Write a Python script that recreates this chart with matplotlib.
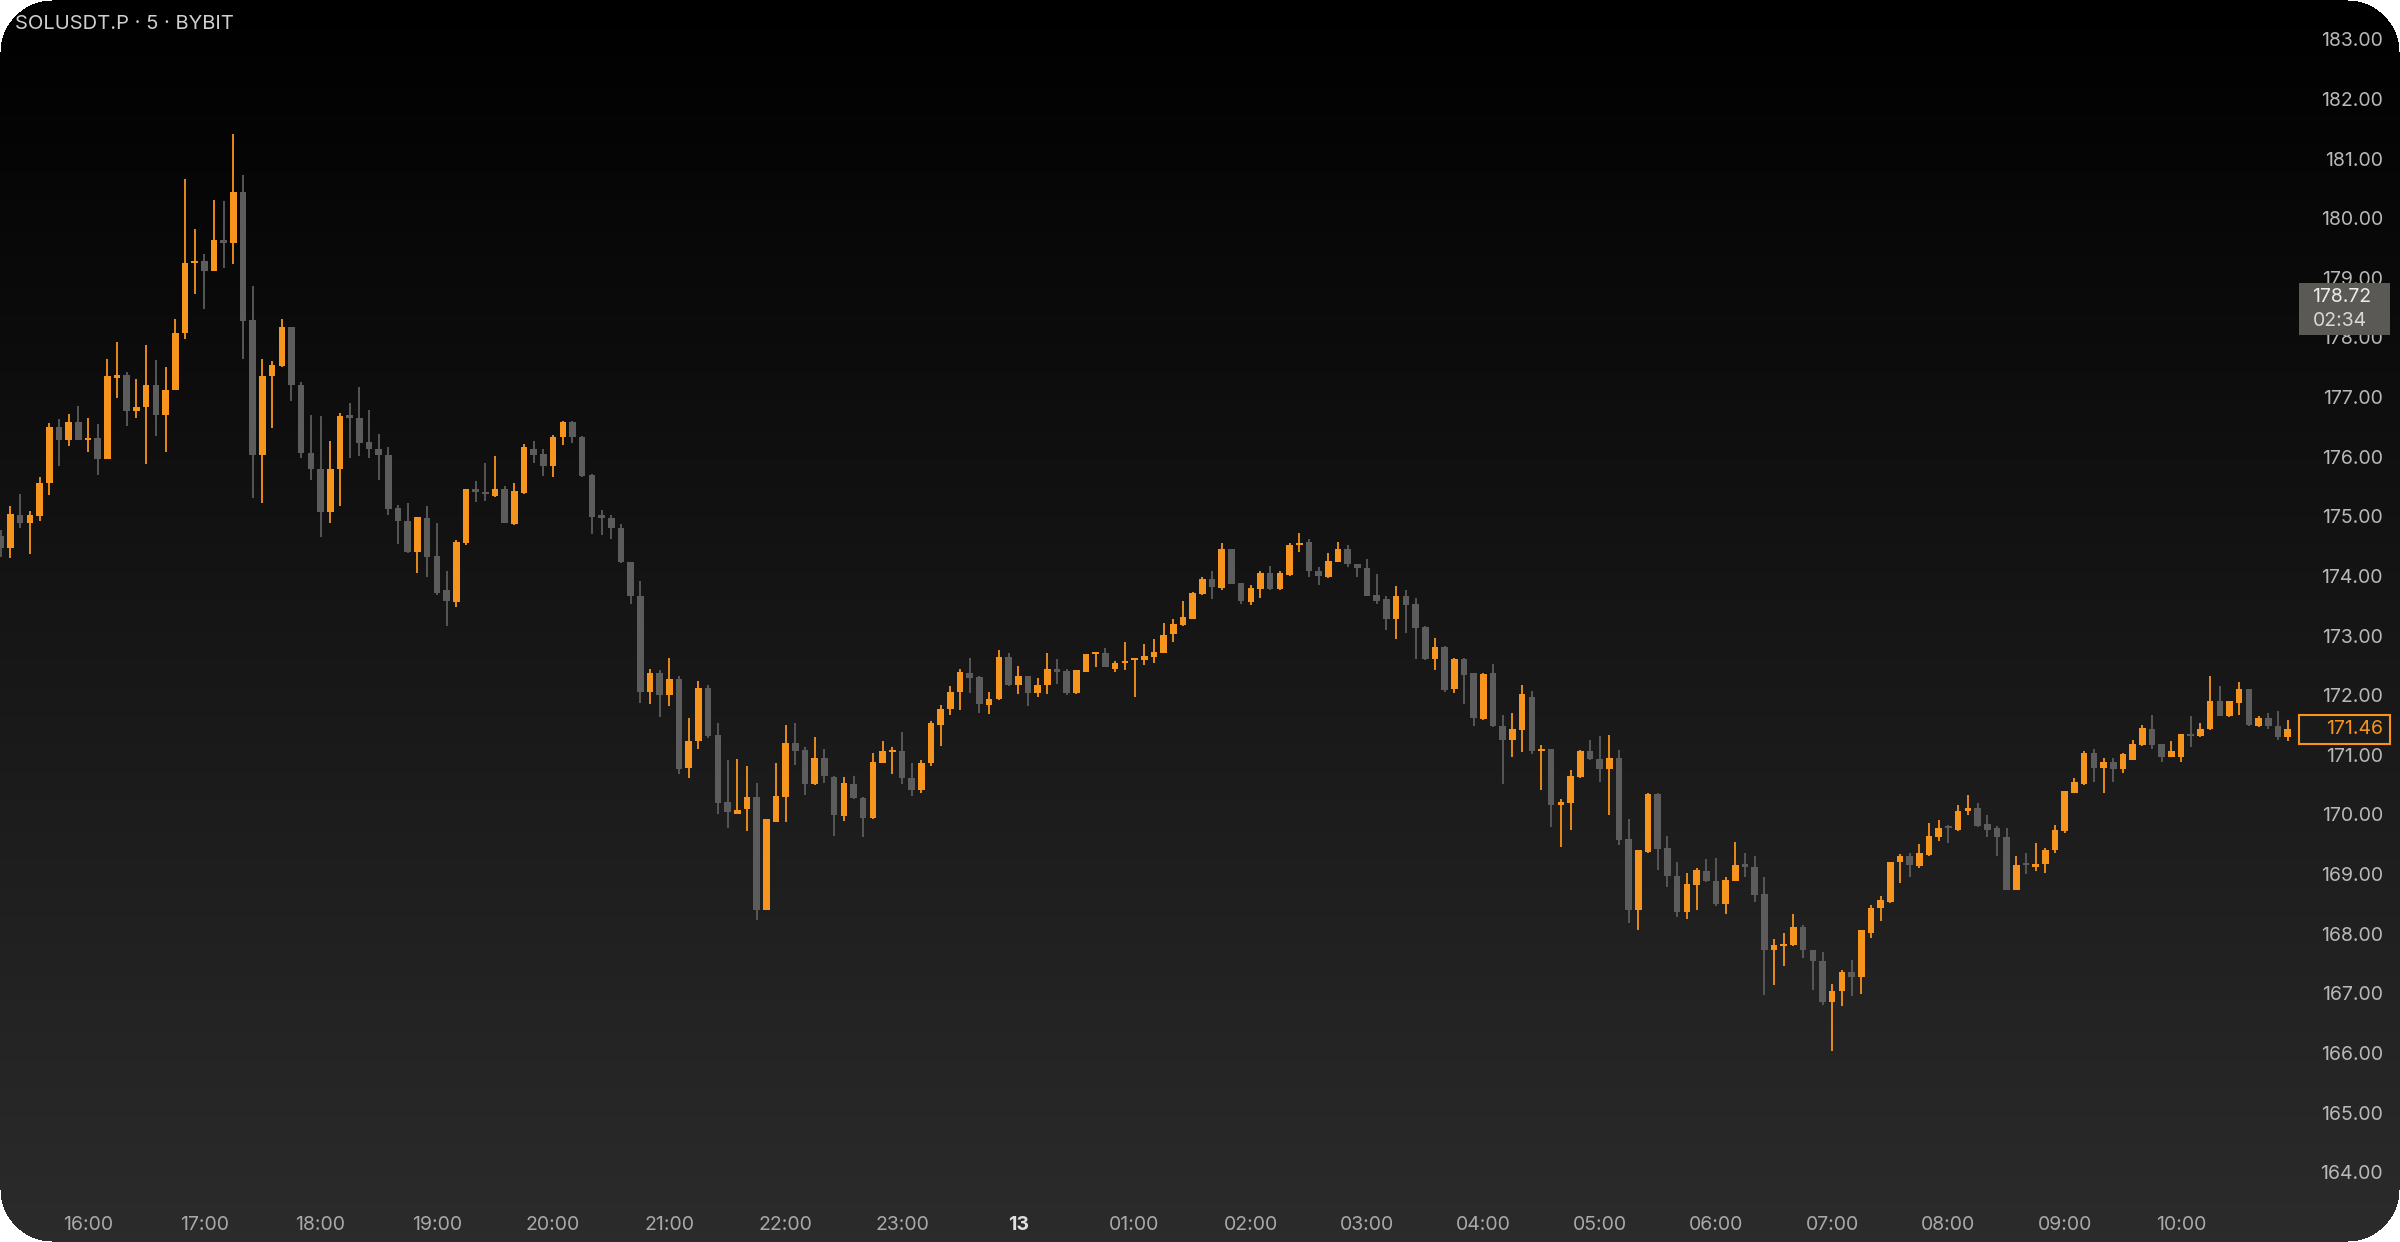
import numpy as np
import matplotlib.pyplot as plt
import matplotlib.transforms as mtransforms
from matplotlib.patches import Rectangle

plt.rcParams['font.family'] = ['Inter', 'DejaVu Sans']

# 5-minute candles, first one is 15:15 (index -9), 16:00 is index 0
first_candle = -9

opens = [
    174.70, 174.51, 175.06, 174.92, 175.04, 175.60, 176.53, 176.32, 176.61, 176.31,
    176.34, 175.99, 177.36, 177.40, 176.80, 176.87, 177.24, 176.73, 177.16, 178.10,
    179.28, 179.32, 179.15, 179.67, 179.61, 180.48, 178.33, 176.07, 177.38, 177.55,
    178.21, 177.24, 176.10, 175.83, 175.10, 175.82, 176.71, 176.68, 176.28, 176.17,
    176.07, 175.17, 174.96, 174.44, 175.01, 174.37, 173.79, 173.60, 174.58, 175.49,
    175.45, 175.38, 175.50, 174.91, 175.43, 176.17, 176.08, 175.87, 176.36, 176.61,
    176.36, 175.73, 175.05, 175.00, 174.83, 174.26, 173.70, 172.09, 172.41, 172.04,
    172.30, 170.81, 171.26, 172.15, 171.37, 170.25, 170.05, 170.12, 170.33, 168.44,
    169.91, 170.33, 171.23, 171.11, 170.55, 170.98, 170.67, 170.01, 170.55, 170.31,
    169.97, 170.90, 171.08, 171.10, 170.65, 170.45, 170.90, 171.53, 171.80, 172.08,
    172.41, 172.34, 171.87, 171.97, 172.68, 172.20, 172.35, 172.07, 172.21, 172.48,
    172.44, 172.07, 172.43, 172.72, 172.74, 172.47, 172.58, 172.62, 172.63, 172.67,
    172.75, 173.06, 173.21, 173.32, 173.73, 173.98, 173.83, 174.48, 173.92, 173.59,
    173.81, 174.08, 173.81, 174.05, 174.55, 174.60, 174.12, 174.01, 174.27, 174.48,
    174.23, 174.16, 173.71, 173.64, 173.31, 173.69, 173.56, 173.17, 172.64, 172.85,
    172.14, 172.64, 172.40, 171.63, 172.40, 171.52, 171.29, 171.45, 172.00, 171.10,
    171.13, 170.20, 170.22, 170.67, 171.10, 170.96, 170.79, 170.98, 169.62, 168.44,
    169.41, 170.37, 169.47, 169.01, 168.40, 168.85, 169.09, 168.92, 168.54, 168.92,
    169.19, 169.15, 168.70, 167.76, 167.83, 167.85, 168.15, 167.76, 167.57, 166.89,
    167.08, 167.40, 167.30, 168.04, 168.46, 168.57, 169.23, 169.34, 169.17, 169.35,
    169.66, 169.82, 169.77, 170.10, 170.14, 169.87, 169.80, 169.66, 168.77, 169.20,
    169.15, 169.20, 169.43, 169.75, 170.40, 170.54, 171.07, 170.82, 170.92, 170.79,
    170.95, 171.20, 171.47, 171.21, 171.00, 171.00, 171.38, 171.35, 171.46, 171.94,
    171.69, 171.91, 172.13, 171.52, 171.66, 171.51, 171.33,
]
highs = [
    174.80, 175.20, 175.41, 175.13, 175.70, 176.60, 176.66, 176.75, 176.88, 176.69,
    176.58, 177.67, 177.95, 177.45, 177.34, 177.90, 177.66, 177.54, 178.34, 180.69,
    179.85, 179.43, 180.34, 180.33, 181.45, 180.76, 178.90, 177.67, 177.64, 178.34,
    178.21, 177.28, 176.73, 176.71, 176.29, 176.76, 176.93, 177.21, 176.81, 176.41,
    176.20, 175.22, 175.26, 175.03, 175.21, 174.93, 174.12, 174.63, 175.50, 175.62,
    175.93, 176.05, 175.54, 175.60, 176.25, 176.29, 176.17, 176.40, 176.64, 176.64,
    176.38, 175.74, 175.14, 175.06, 174.90, 174.27, 173.95, 172.47, 172.45, 172.65,
    172.35, 171.66, 172.28, 172.21, 171.56, 170.95, 170.96, 170.84, 170.57, 169.96,
    170.90, 171.53, 171.57, 171.17, 171.34, 171.14, 170.68, 170.66, 170.68, 170.32,
    171.07, 171.27, 171.17, 171.41, 170.90, 170.95, 171.60, 171.87, 172.19, 172.48,
    172.65, 172.36, 172.08, 172.80, 172.75, 172.53, 172.36, 172.33, 172.75, 172.64,
    172.47, 172.46, 172.73, 172.75, 172.82, 172.61, 172.92, 172.65, 172.89, 172.98,
    173.25, 173.32, 173.61, 173.77, 174.02, 174.11, 174.59, 174.48, 173.92, 173.88,
    174.11, 174.20, 174.11, 174.58, 174.76, 174.66, 174.19, 174.42, 174.61, 174.56,
    174.23, 174.31, 174.06, 173.70, 173.87, 173.80, 173.66, 173.19, 173.00, 172.86,
    172.65, 172.65, 172.41, 172.41, 172.56, 171.70, 171.73, 172.20, 172.10, 171.20,
    171.13, 170.30, 170.78, 171.11, 171.28, 171.35, 171.37, 171.12, 169.95, 169.44,
    170.39, 170.40, 169.67, 169.23, 169.06, 169.13, 169.28, 169.30, 168.99, 169.58,
    169.39, 169.34, 168.99, 167.94, 168.05, 168.37, 168.18, 167.76, 167.73, 167.19,
    167.42, 167.60, 168.10, 168.52, 168.66, 169.24, 169.37, 169.38, 169.54, 169.89,
    169.94, 169.86, 170.19, 170.36, 170.22, 170.02, 169.84, 169.80, 169.34, 169.39,
    169.56, 169.47, 169.86, 170.43, 170.64, 171.09, 171.13, 170.98, 170.98, 171.07,
    171.29, 171.53, 171.70, 171.21, 171.27, 171.39, 171.69, 171.57, 172.36, 172.19,
    171.94, 172.26, 172.13, 171.68, 171.74, 171.77, 171.62,
]
lows = [
    174.35, 174.34, 174.83, 174.40, 174.96, 175.39, 175.87, 176.22, 176.31, 176.12,
    175.73, 175.99, 177.01, 176.55, 176.68, 175.91, 176.38, 176.12, 177.15, 178.00,
    178.76, 178.51, 179.15, 179.20, 179.27, 177.68, 175.34, 175.26, 176.51, 177.53,
    176.96, 176.01, 175.64, 174.69, 174.93, 175.20, 176.01, 176.04, 176.01, 175.65,
    175.06, 174.57, 174.42, 174.08, 174.01, 173.72, 173.20, 173.52, 174.55, 175.27,
    175.29, 175.35, 174.92, 174.89, 175.41, 175.93, 175.71, 175.69, 176.23, 176.26,
    175.70, 174.74, 174.72, 174.65, 174.25, 173.57, 171.90, 171.88, 171.67, 171.85,
    170.71, 170.65, 171.13, 171.31, 170.04, 169.80, 170.04, 169.76, 168.27, 168.44,
    169.90, 169.91, 170.86, 170.36, 170.53, 170.57, 169.67, 169.93, 170.29, 169.65,
    169.96, 170.90, 170.72, 170.55, 170.35, 170.40, 170.85, 171.18, 171.70, 171.78,
    172.07, 171.73, 171.72, 171.95, 172.18, 172.05, 171.85, 172.00, 172.05, 172.22,
    172.04, 172.05, 172.42, 172.51, 172.50, 172.43, 172.46, 172.00, 172.54, 172.58,
    172.74, 172.92, 173.20, 173.31, 173.71, 173.64, 173.80, 173.90, 173.56, 173.55,
    173.66, 173.80, 173.80, 174.04, 174.44, 174.02, 173.88, 174.00, 174.26, 174.19,
    174.02, 173.69, 173.56, 173.12, 172.97, 173.07, 172.64, 172.63, 172.45, 172.08,
    172.07, 171.89, 171.52, 171.61, 171.50, 170.55, 171.00, 171.08, 171.05, 170.44,
    169.82, 169.49, 169.77, 170.65, 170.95, 170.58, 170.02, 169.52, 168.21, 168.10,
    169.39, 169.11, 168.81, 168.31, 168.28, 168.43, 168.90, 168.50, 168.36, 168.91,
    168.99, 168.57, 167.01, 167.17, 167.49, 167.83, 167.62, 167.09, 166.84, 166.06,
    166.82, 166.99, 167.02, 167.96, 168.24, 168.55, 168.89, 168.99, 169.13, 169.34,
    169.59, 169.55, 169.76, 170.03, 169.82, 169.65, 169.33, 168.76, 168.76, 169.04,
    169.08, 169.06, 169.38, 169.73, 170.39, 170.53, 170.58, 170.40, 170.58, 170.73,
    170.94, 171.18, 171.13, 170.92, 170.99, 170.92, 171.17, 171.33, 171.45, 171.68,
    171.67, 171.70, 171.52, 171.50, 171.46, 171.28, 171.27,
]
closes = [
    174.50, 175.07, 174.92, 175.06, 175.60, 176.54, 176.32, 176.61, 176.31, 176.34,
    175.99, 177.38, 177.40, 176.80, 176.87, 177.24, 176.73, 177.16, 178.10, 179.29,
    179.32, 179.15, 179.67, 179.61, 180.48, 178.31, 176.07, 177.38, 177.57, 178.21,
    177.23, 176.09, 175.82, 175.10, 175.83, 176.71, 176.69, 176.26, 176.16, 176.06,
    175.15, 174.96, 174.44, 175.02, 174.36, 173.75, 173.61, 174.61, 175.49, 175.44,
    175.41, 175.50, 174.93, 175.46, 176.19, 176.06, 175.87, 176.36, 176.61, 176.36,
    175.71, 175.03, 175.00, 174.83, 174.26, 173.70, 172.09, 172.41, 172.04, 172.30,
    170.79, 171.27, 172.15, 171.35, 170.23, 170.08, 170.11, 170.33, 168.44, 169.95,
    170.34, 171.24, 171.10, 170.55, 170.98, 170.68, 170.03, 170.56, 170.31, 169.97,
    170.92, 171.10, 171.11, 170.65, 170.45, 170.90, 171.56, 171.81, 172.09, 172.43,
    172.33, 171.88, 171.97, 172.68, 172.21, 172.35, 172.07, 172.21, 172.48, 172.43,
    172.07, 172.45, 172.72, 172.74, 172.51, 172.58, 172.61, 172.65, 172.69, 172.76,
    173.05, 173.23, 173.34, 173.75, 173.98, 173.85, 174.48, 173.90, 173.62, 173.84,
    174.09, 173.81, 174.09, 174.56, 174.58, 174.11, 174.03, 174.29, 174.48, 174.23,
    174.16, 173.70, 173.62, 173.31, 173.70, 173.55, 173.16, 172.64, 172.85, 172.12,
    172.64, 172.37, 171.65, 172.39, 171.51, 171.29, 171.46, 172.05, 171.09, 171.13,
    170.19, 170.23, 170.68, 171.10, 170.96, 170.79, 170.98, 169.60, 168.44, 169.43,
    170.37, 169.45, 169.00, 168.40, 168.87, 169.11, 168.91, 168.54, 168.93, 169.19,
    169.16, 168.68, 167.76, 167.85, 167.86, 168.15, 167.76, 167.57, 166.89, 167.08,
    167.40, 167.30, 168.09, 168.47, 168.60, 169.23, 169.34, 169.19, 169.38, 169.67,
    169.80, 169.80, 170.10, 170.14, 169.84, 169.78, 169.66, 168.77, 169.19, 169.18,
    169.20, 169.44, 169.77, 170.42, 170.58, 171.07, 170.81, 170.92, 170.79, 171.05,
    171.22, 171.48, 171.20, 171.00, 171.09, 171.38, 171.35, 171.46, 171.94, 171.69,
    171.93, 172.13, 171.53, 171.66, 171.51, 171.33, 171.46,
]

price_ticks = list(range(164, 184))
hour_labels = ['16:00', '17:00', '18:00', '19:00', '20:00', '21:00', '22:00', '23:00',
               '13', '01:00', '02:00', '03:00', '04:00', '05:00', '06:00', '07:00',
               '08:00', '09:00', '10:00']
title = 'SOLUSDT.P · 5 · BYBIT'
last_price = 171.46
marker_price = 178.72
countdown = '02:34'

ORANGE = '#F7941D'
GRAY = '#5c5c5c'

W, H = 2400, 1242
candle_px = 9.69      # pixel step between candles
zero_px = 88          # pixel x of the 16:00 candle
unit_px = 59.63       # pixels per 1.00 of price
top_px = 41.3         # pixel y of 183.00

xlim = (-zero_px / candle_px, (W - zero_px) / candle_px)
ylim = (183 - (H - top_px) / unit_px, 183 + top_px / unit_px)

fig = plt.figure(figsize=(W / 100, H / 100), dpi=100)
ax = fig.add_axes([0, 0, 1, 1])
ax.set_axis_off()

# dark vertical gradient with rounded corners
yy, xx = np.mgrid[0:H, 0:W]
shade = 0.17 * yy / (H - 1)
img = np.dstack([shade, shade, shade])
r = 52
cx = np.clip(xx, r, W - 1 - r)
cy = np.clip(yy, r, H - 1 - r)
img[(xx - cx) ** 2 + (yy - cy) ** 2 > r ** 2] = 1.0
ax.imshow(img, extent=(xlim[0], xlim[1], ylim[0], ylim[1]), aspect='auto',
          zorder=0, interpolation='bilinear')

o = np.array(opens)
h = np.array(highs)
l = np.array(lows)
c = np.array(closes)
x = np.arange(first_candle, first_candle + len(o))
colors = np.where(c >= o, ORANGE, GRAY)

ax.vlines(x, l, h, colors=colors, linewidth=1.3, zorder=2)
ax.bar(x, np.maximum(np.abs(c - o), 0.035), bottom=np.minimum(o, c), width=0.68,
       color=colors, linewidth=0, zorder=3)

ax.set_xlim(*xlim)
ax.set_ylim(*ylim)

ty = mtransforms.blended_transform_factory(ax.transAxes, ax.transData)
tx = mtransforms.blended_transform_factory(ax.transData, ax.transAxes)

fs = 14
for p in price_ticks:
    ax.text(0.9929, p, f'{p:.2f}', transform=ty, ha='right', va='center',
            fontsize=fs, color='#b8b8b8', zorder=4)

# last price tag
half = 14.5 / unit_px
ax.add_patch(Rectangle((0.958, last_price - half), 0.038, 2 * half, transform=ty,
                       facecolor='#1a1a1a', edgecolor=ORANGE, linewidth=1.5, zorder=5))
ax.text(0.9929, last_price, f'{last_price:.2f}', transform=ty, ha='right', va='center',
        fontsize=fs, color=ORANGE, zorder=6)

# grey price / countdown tag
box_top = marker_price + 14 / unit_px
box_bot = marker_price - 38 / unit_px
ax.add_patch(Rectangle((0.958, box_bot), 0.038, box_top - box_bot, transform=ty,
                       facecolor='#5a5955', edgecolor='none', zorder=5))
ax.text(0.9635, marker_price, f'{marker_price:.2f}', transform=ty, ha='left', va='center',
        fontsize=fs, color='#ececec', zorder=6)
ax.text(0.9635, marker_price - 24 / unit_px, countdown, transform=ty, ha='left',
        va='center', fontsize=fs, color='#d8d8d8', zorder=6)

for i, lab in enumerate(hour_labels):
    bold = lab == '13'
    ax.text(i * 12, 1 - 1225 / H, lab, transform=tx, ha='center', va='center',
            fontsize=fs, color='#e0e0e0' if bold else '#a9a9a9',
            fontweight='bold' if bold else 'normal', zorder=4)

ax.text(15 / W, 1 - 24 / H, title, transform=ax.transAxes, ha='left', va='center',
        fontsize=14.5, color='#cfcfcf', zorder=4)

fig.savefig('out.png', dpi=100, facecolor='white')
